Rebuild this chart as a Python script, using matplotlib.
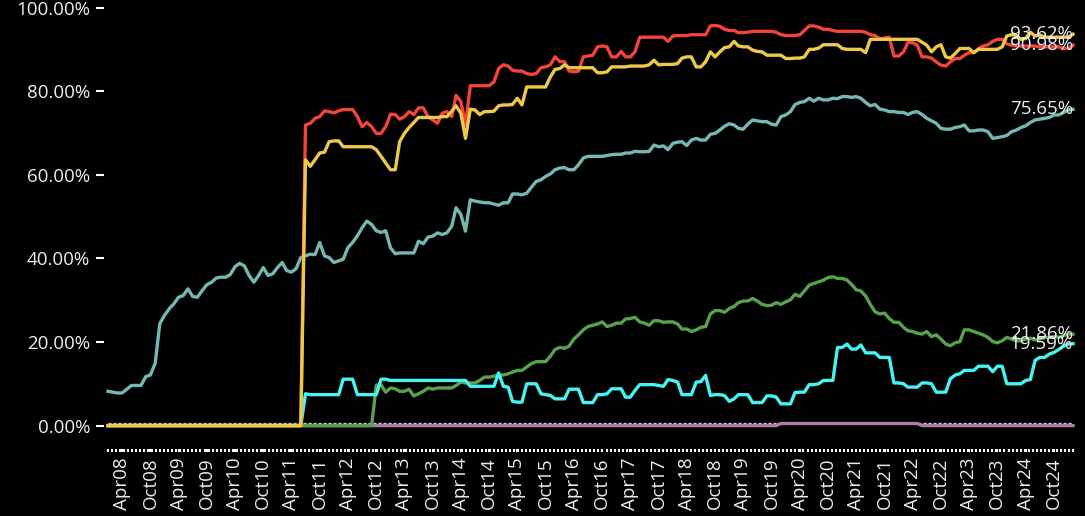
#!/usr/bin/env python3
"""Share-over-time chart: six series, monthly, Jan 2008 .. Feb 2025, dark theme."""
import pandas as pd
import matplotlib
matplotlib.use("Agg")
import matplotlib.pyplot as plt
from matplotlib.ticker import FixedLocator, FuncFormatter

months = pd.date_range("2008-01-01", "2025-02-01", freq="MS")   # 206 points

# --- series values (%), read month by month ------------------------------
teal = [
    8.2, 8.0, 7.8, 7.8, 8.7, 9.6, 9.6, 9.6, 11.7, 12.1,
    14.9, 24.4, 26.4, 28.0, 29.1, 30.7, 31.1, 32.7, 30.9, 30.7,
    32.3, 33.7, 34.3, 35.3, 35.5, 35.5, 36.1, 38.0, 38.8, 38.2,
    35.9, 34.3, 35.9, 37.8, 35.9, 36.3, 37.8, 39.0, 37.1, 36.7,
    37.5, 40.2, 40.6, 41.0, 40.9, 43.8, 40.6, 40.2, 39.0, 39.4,
    39.8, 42.6, 43.8, 45.4, 47.3, 48.9, 48.1, 46.6, 46.2, 46.6,
    42.5, 41.1, 41.3, 41.3, 41.3, 41.3, 44.1, 43.5, 45.1, 45.3,
    46.1, 45.7, 46.1, 47.7, 52.1, 50.5, 46.5, 54.0, 53.7, 53.5,
    53.3, 53.3, 53.0, 52.7, 53.3, 53.3, 55.4, 55.4, 55.2, 55.6,
    57.0, 58.4, 58.8, 59.6, 60.2, 61.2, 61.6, 61.7, 61.2, 61.2,
    62.4, 64.0, 64.4, 64.4, 64.4, 64.4, 64.6, 64.8, 64.9, 64.9,
    65.2, 65.2, 65.6, 65.5, 65.5, 65.6, 67.1, 66.7, 66.9, 66.0,
    67.5, 67.8, 67.9, 67.0, 68.3, 68.7, 68.3, 68.3, 69.7, 69.9,
    70.7, 71.6, 72.2, 71.9, 71.1, 70.9, 72.1, 73.1, 72.9, 72.7,
    72.7, 72.1, 71.9, 73.9, 74.3, 75.1, 76.8, 77.3, 77.5, 78.3,
    77.6, 78.3, 77.9, 77.9, 78.3, 78.2, 78.7, 78.7, 78.5, 78.7,
    78.3, 77.3, 76.5, 76.8, 75.7, 75.5, 75.1, 75.1, 74.9, 74.9,
    74.4, 74.9, 75.1, 74.4, 73.5, 72.9, 72.3, 71.1, 70.9, 70.9,
    71.3, 71.5, 71.9, 70.5, 70.5, 70.7, 70.7, 70.3, 68.7, 68.9,
    69.1, 69.4, 70.3, 70.7, 71.3, 71.7, 72.5, 73.1, 73.3, 73.5,
    73.7, 74.3, 74.3, 74.9, 75.5, 75.65,
]
red = [
    0, 0, 0, 0, 0, 0, 0, 0, 0, 0,
    0, 0, 0, 0, 0, 0, 0, 0, 0, 0,
    0, 0, 0, 0, 0, 0, 0, 0, 0, 0,
    0, 0, 0, 0, 0, 0, 0, 0, 0, 0,
    0, 0, 71.9, 72.3, 73.5, 73.9, 75.3, 75.1, 74.8, 75.3,
    75.6, 75.6, 75.6, 73.9, 71.5, 72.5, 71.5, 69.9, 69.9, 71.5,
    74.5, 74.4, 73.3, 73.9, 75.1, 74.4, 76.0, 76.0, 73.9, 73.1,
    72.3, 74.7, 75.1, 73.9, 79.0, 77.5, 71.9, 81.3, 81.3, 81.3,
    81.3, 81.3, 82.2, 85.4, 86.3, 86.0, 85.0, 84.8, 84.8, 84.2,
    84.0, 84.2, 85.6, 85.8, 86.3, 88.2, 87.1, 87.0, 84.8, 84.6,
    84.8, 88.2, 88.4, 88.6, 90.6, 90.8, 90.6, 88.2, 88.2, 89.5,
    88.2, 88.2, 89.4, 92.9, 92.9, 92.9, 92.9, 92.9, 92.9, 91.9,
    93.2, 93.3, 93.3, 93.3, 93.5, 93.5, 93.5, 93.5, 95.6, 95.7,
    95.5, 94.8, 94.5, 94.5, 94.0, 94.0, 94.1, 94.3, 94.3, 94.3,
    94.3, 94.3, 94.1, 93.5, 93.3, 93.3, 93.3, 93.5, 94.5, 95.6,
    95.6, 95.3, 94.8, 94.8, 94.5, 94.3, 94.3, 94.3, 94.3, 94.3,
    94.3, 94.1, 93.5, 93.3, 92.5, 92.7, 92.9, 88.4, 88.4, 89.4,
    91.6, 91.6, 91.0, 88.2, 88.2, 87.9, 87.0, 86.2, 86.0, 87.0,
    87.8, 87.8, 88.6, 89.2, 89.2, 90.2, 90.8, 91.1, 91.9, 92.4,
    92.4, 91.3, 91.0, 90.8, 90.8, 90.8, 90.8, 90.8, 90.6, 90.6,
    90.6, 90.6, 90.6, 90.2, 90.2, 90.98,
]
yellow = [
    0, 0, 0, 0, 0, 0, 0, 0, 0, 0,
    0, 0, 0, 0, 0, 0, 0, 0, 0, 0,
    0, 0, 0, 0, 0, 0, 0, 0, 0, 0,
    0, 0, 0, 0, 0, 0, 0, 0, 0, 0,
    0, 0, 63.6, 62.0, 63.6, 65.2, 65.4, 67.9, 68.1, 68.1,
    66.7, 66.7, 66.7, 66.7, 66.7, 66.7, 66.7, 66.0, 64.4, 62.8,
    61.2, 61.2, 67.9, 69.9, 71.3, 72.5, 73.7, 73.7, 73.7, 73.7,
    73.7, 73.9, 73.9, 75.2, 76.5, 74.7, 68.7, 75.7, 75.5, 74.4,
    75.1, 75.1, 75.2, 76.5, 76.7, 76.7, 76.8, 78.3, 76.7, 81.0,
    81.0, 81.0, 81.0, 81.0, 83.4, 85.2, 85.4, 86.3, 85.6, 85.6,
    85.6, 85.6, 85.6, 85.6, 84.4, 84.4, 84.6, 85.8, 85.8, 85.8,
    85.8, 86.0, 86.0, 86.0, 86.0, 86.3, 87.4, 86.3, 86.4, 86.4,
    86.4, 86.6, 87.9, 88.2, 88.2, 85.8, 85.8, 87.0, 89.4, 88.2,
    89.4, 90.4, 90.6, 91.9, 90.8, 90.6, 90.6, 89.8, 89.5, 89.4,
    88.6, 88.6, 88.6, 88.6, 87.8, 87.8, 87.9, 87.9, 88.2, 90.0,
    90.0, 90.3, 91.1, 91.1, 91.1, 91.1, 90.2, 90.0, 90.0, 90.0,
    90.0, 89.2, 92.4, 92.4, 92.4, 92.4, 92.4, 92.4, 92.4, 92.4,
    92.4, 92.4, 92.4, 91.7, 91.0, 89.4, 90.6, 91.1, 88.2, 87.9,
    89.0, 90.2, 90.2, 90.2, 89.2, 90.0, 90.0, 90.0, 90.0, 90.0,
    90.6, 93.2, 93.5, 93.3, 92.4, 92.6, 94.1, 93.2, 93.5, 92.9,
    92.9, 92.9, 92.9, 92.9, 92.9, 93.62,
]
cyan = [
    0, 0, 0, 0, 0, 0, 0, 0, 0, 0,
    0, 0, 0, 0, 0, 0, 0, 0, 0, 0,
    0, 0, 0, 0, 0, 0, 0, 0, 0, 0,
    0, 0, 0, 0, 0, 0, 0, 0, 0, 0,
    0, 0, 7.6, 7.4, 7.4, 7.4, 7.4, 7.4, 7.4, 7.4,
    11.1, 11.1, 11.1, 7.4, 7.4, 7.4, 7.4, 7.4, 11.1, 11.1,
    10.8, 10.8, 10.8, 10.8, 10.8, 10.8, 10.8, 10.8, 10.8, 10.8,
    10.8, 10.8, 10.8, 10.8, 10.8, 10.8, 10.8, 9.4, 9.4, 9.4,
    9.4, 9.4, 9.4, 12.6, 9.4, 9.2, 5.8, 5.6, 5.6, 10.0,
    10.0, 10.0, 7.6, 7.4, 7.2, 6.4, 6.4, 6.4, 8.7, 8.7,
    8.7, 5.5, 5.5, 5.5, 7.4, 7.4, 7.6, 8.8, 8.8, 8.8,
    6.8, 6.8, 8.4, 9.8, 9.8, 9.8, 9.8, 9.6, 9.4, 11.0,
    10.8, 10.4, 7.4, 7.4, 7.4, 10.4, 10.5, 12.0, 7.2, 7.4,
    7.4, 7.2, 5.8, 6.4, 7.4, 7.4, 7.4, 5.5, 5.5, 5.5,
    7.1, 7.1, 6.8, 5.2, 5.2, 5.2, 7.9, 8.0, 8.0, 9.8,
    9.8, 10.0, 10.8, 10.8, 10.8, 18.7, 18.7, 19.5, 18.3, 18.3,
    19.3, 17.4, 17.4, 17.4, 16.3, 16.3, 16.3, 10.2, 10.2, 10.0,
    9.2, 9.2, 9.2, 10.2, 10.2, 10.0, 8.0, 8.0, 8.0, 11.2,
    12.1, 12.4, 13.2, 13.2, 13.2, 14.2, 14.2, 14.2, 12.9, 14.2,
    14.2, 10.0, 10.0, 10.0, 10.0, 10.8, 11.0, 15.6, 16.3, 16.3,
    17.1, 17.5, 18.2, 19.0, 19.5, 19.59,
]
green = [
    0, 0, 0, 0, 0, 0, 0, 0, 0, 0,
    0, 0, 0, 0, 0, 0, 0, 0, 0, 0,
    0, 0, 0, 0, 0, 0, 0, 0, 0, 0,
    0, 0, 0, 0, 0, 0, 0, 0, 0, 0,
    0, 0, 0, 0, 0, 0, 0, 0, 0, 0,
    0, 0, 0, 0, 0, 0, 0, 9.7, 9.7, 8.0,
    9.0, 8.8, 8.2, 8.2, 8.7, 7.1, 7.6, 8.2, 9.0, 8.7,
    9.0, 9.0, 9.0, 9.0, 9.6, 10.4, 10.2, 10.2, 10.2, 10.8,
    11.6, 11.6, 11.8, 12.1, 12.1, 12.4, 12.8, 13.2, 13.2, 14.0,
    14.8, 15.3, 15.3, 15.3, 16.6, 18.2, 18.7, 18.5, 19.0, 20.7,
    21.7, 22.9, 23.7, 24.0, 24.3, 24.8, 23.7, 24.0, 24.5, 24.5,
    25.5, 25.6, 25.9, 24.8, 24.5, 24.0, 25.1, 25.1, 24.7, 24.8,
    24.8, 24.3, 23.1, 23.1, 22.5, 22.9, 23.5, 23.7, 26.7, 27.5,
    27.5, 27.1, 28.0, 28.5, 29.4, 29.8, 29.8, 30.4, 29.8, 29.0,
    28.7, 28.8, 29.4, 29.0, 29.6, 30.1, 31.4, 30.9, 32.2, 33.6,
    34.0, 34.4, 34.8, 35.4, 35.6, 35.2, 35.2, 34.8, 33.8, 32.5,
    32.2, 31.0, 29.0, 27.2, 26.7, 26.9, 25.6, 24.7, 24.7, 23.5,
    22.7, 22.5, 22.1, 21.9, 22.5, 21.3, 21.7, 20.7, 19.5, 19.1,
    19.8, 20.1, 22.9, 22.9, 22.5, 22.1, 21.7, 21.1, 20.1, 19.8,
    20.3, 21.1, 20.7, 20.3, 20.3, 20.7, 20.9, 20.5, 20.7, 21.1,
    21.1, 21.3, 21.1, 21.5, 21.9, 21.86,
]
pink = [
    0, 0, 0, 0, 0, 0, 0, 0, 0, 0,
    0, 0, 0, 0, 0, 0, 0, 0, 0, 0,
    0, 0, 0, 0, 0, 0, 0, 0, 0, 0,
    0, 0, 0, 0, 0, 0, 0, 0, 0, 0,
    0, 0, 0, 0, 0, 0, 0, 0, 0, 0,
    0, 0, 0, 0, 0, 0, 0, 0, 0, 0,
    0, 0, 0, 0, 0, 0, 0, 0, 0, 0,
    0, 0, 0, 0, 0, 0, 0, 0, 0, 0,
    0, 0, 0, 0, 0, 0, 0, 0, 0, 0,
    0, 0, 0, 0, 0, 0, 0, 0, 0, 0,
    0, 0, 0, 0, 0, 0, 0, 0, 0, 0,
    0, 0, 0, 0, 0, 0, 0, 0, 0, 0,
    0, 0, 0, 0, 0, 0, 0, 0, 0, 0,
    0, 0, 0, 0, 0, 0, 0, 0, 0, 0,
    0, 0, 0, 0.5, 0.5, 0.5, 0.5, 0.5, 0.5, 0.5,
    0.5, 0.5, 0.5, 0.5, 0.5, 0.5, 0.5, 0.5, 0.5, 0.5,
    0.5, 0.5, 0.5, 0.5, 0.5, 0.5, 0.5, 0.5, 0.5, 0.5,
    0.5, 0.5, 0.5, 0, 0, 0, 0, 0, 0, 0,
    0, 0, 0, 0, 0, 0, 0, 0, 0, 0,
    0, 0, 0, 0, 0, 0, 0, 0, 0, 0,
    0, 0, 0, 0, 0, 0,
]
ZERO_LINE = 0.55   # dashed baseline sits just above the zero-level lines

# drawing order bottom -> top
SERIES = [
    (teal, "#76B7B2", True),
    (pink, "#B07AA1", False),
    (green, "#59A14F", True),
    (cyan, "#45F3F3", True),
    (red, "#F4433A", True),
    (yellow, "#EDC948", True),
]

FG = "#eeeeee"
FS = 13.5
plt.rcParams["font.family"] = ["Open Sans", "DejaVu Sans"]

W, H = 1085, 516
fig = plt.figure(figsize=(W / 100, H / 100), dpi=100, facecolor="black")
ax = fig.add_axes([104 / W, 67 / H, 973 / W, 449 / H], facecolor="black")
for s in ax.spines.values():
    s.set_visible(False)

ax.hlines(ZERO_LINE, months[0], months[-1], colors="#d8d8d8", lw=0.9,
          linestyles=(0, (2.5, 1.5)), zorder=1)

for vals, col, label in SERIES:
    assert len(vals) == len(months)
    ax.plot(months, vals, color=col, lw=2.4, zorder=2)
    if label:
        ax.text(months[-1], vals[-1], f"{vals[-1]:.2f}%", ha="right",
                va="center", color=FG, fontsize=FS, zorder=5)

# x axis: Apr/Oct labels, dense small ticks underneath
major = pd.date_range("2008-04-01", "2024-10-01", freq="6MS")
ax.xaxis.set_major_locator(FixedLocator([matplotlib.dates.date2num(d) for d in major]))
ax.set_xticklabels([d.strftime("%b%y") for d in major], rotation=90)
minor = pd.date_range(months[0], months[-1], freq="26D")
ax.xaxis.set_minor_locator(FixedLocator([matplotlib.dates.date2num(d) for d in minor]))
ax.tick_params(axis="x", which="both", direction="out", length=2.2, width=1.5,
               colors="white", labelcolor=FG, labelsize=FS, pad=4)

ax.set_yticks([0, 20, 40, 60, 80, 100])
ax.yaxis.set_major_formatter(FuncFormatter(lambda v, _: f"{v:.2f}%"))
ax.tick_params(axis="y", direction="out", length=6, width=1.5, colors="white",
               labelcolor=FG, labelsize=FS, pad=4)

ax.set_xlim(months[0] - pd.Timedelta(days=26), months[-1] + pd.Timedelta(days=26))
ax.set_ylim(-5.6, 101.8)

fig.savefig("out.png", dpi=100, facecolor="black")
